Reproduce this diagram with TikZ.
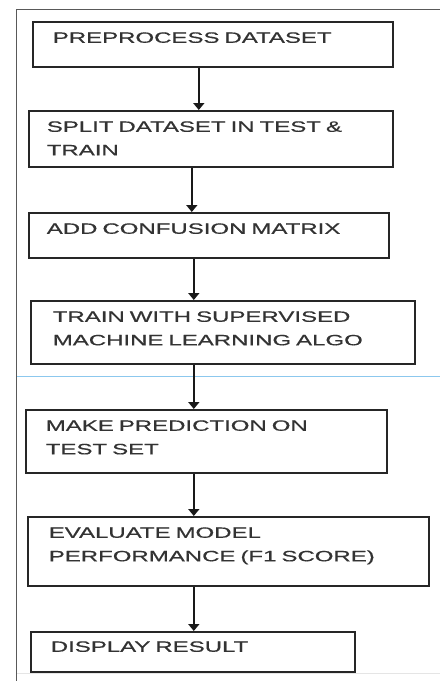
\documentclass[tikz,border=0pt]{standalone}
\usepackage{fontspec}
\setmainfont[FakeStretch=1.6,FakeBold=0.6]{Liberation Sans}
\usetikzlibrary{arrows.meta}
\definecolor{rulerblue}{HTML}{8CC8EE}

\tikzset{
  stage/.style={draw=black!85, line width=1.6pt, anchor=north west, align=left,
    inner xsep=20pt, inner ysep=10pt, text height=11pt, text=black!80,
    font=\fontsize{15}{23.5}\selectfont},
  flow/.style={-{Triangle[width=11pt,length=7pt]}, line width=1.8pt, draw=black!90},
}

\begin{document}
\begin{tikzpicture}[x=1pt,y=-1pt]
  \useasboundingbox (0,0) rectangle (440,681);
  % page frame and guide lines
  \draw[black!65, line width=1pt] (16,681) -- (16,9) -- (440,9);
  \draw[rulerblue, line width=0.8pt] (17,376) -- (440,376);
  \draw[black!10, line width=0.8pt] (17,673) -- (440,673);

  % steps
  \node[stage, text width=320pt, text depth=14pt] (b1) at (32,21) {PREPROCESS DATASET};
  \node[stage, inner xsep=18pt, text width=328pt, text depth=25pt] (b2) at (28,110) {SPLIT DATASET IN TEST \&\\TRAIN};
  \node[stage, inner xsep=18pt, text width=324pt, text depth=14pt] (b3) at (28,212) {ADD CONFUSION MATRIX};
  \node[stage, inner xsep=22pt, text width=340pt, text depth=32pt] (b4) at (30,300) {TRAIN WITH SUPERVISED\\MACHINE LEARNING ALGO};
  \node[stage, text width=321pt, text depth=32pt] (b5) at (25,409) {MAKE PREDICTION ON\\TEST SET};
  \node[stage, inner xsep=21pt, text width=359pt, text depth=38pt] (b6) at (27,516) {EVALUATE MODEL\\PERFORMANCE (F1 SCORE)};
  \node[stage, inner ysep=9pt, text width=284pt, text depth=11pt] (b7) at (30,631) {DISPLAY RESULT};

  % arrows
  \draw[flow] ([xshift=-14pt]b1.south) -- ([xshift=-14pt]b1.south |- b2.north);
  \draw[flow] ([xshift=-19pt]b2.south) -- ([xshift=-19pt]b2.south |- b3.north);
  \draw[flow] ([xshift=-15pt]b3.south) -- ([xshift=-15pt]b3.south |- b4.north);
  \draw[flow] ([xshift=-29pt]b4.south) -- ([xshift=-29pt]b4.south |- b5.north);
  \draw[flow] ([xshift=-12.5pt]b5.south) -- ([xshift=-12.5pt]b5.south |- b6.north);
  \draw[flow] ([xshift=-34.5pt]b6.south) -- ([xshift=-34.5pt]b6.south |- b7.north);
\end{tikzpicture}
\end{document}
